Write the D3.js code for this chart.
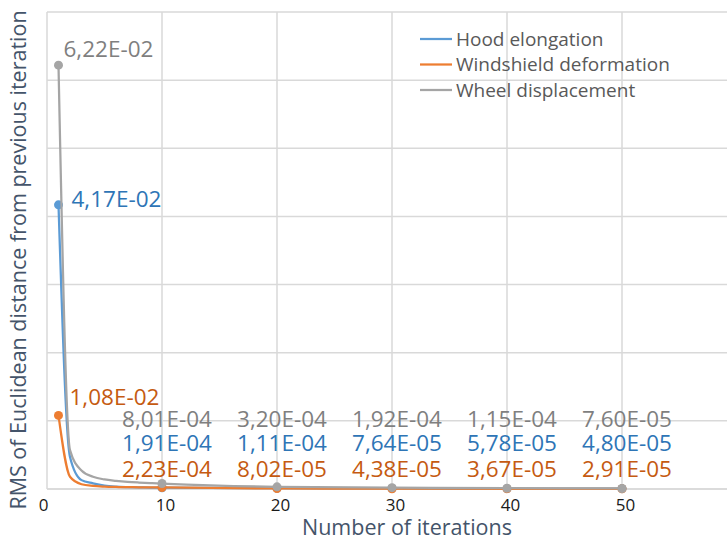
<!DOCTYPE html>
<html>
<head>
<meta charset="utf-8">
<script src="https://cdn.jsdelivr.net/npm/d3@7"></script>
<style>
  html, body { margin: 0; padding: 0; background: #fff; }
  svg { display: block; font-family: "Open Sans", sans-serif; }
</style>
</head>
<body>
<svg id="chart" width="727" height="541"></svg>
<script>
// ---- data ----
const iterations = [1, 2, 3, 4, 5, 6, 7, 8, 9, 10, 20, 30, 40, 50];
const hoodElongation = [4.17e-2, 4.7e-3, 1.3e-3, 8.3e-4, 5.0e-4, 3.5e-4, 2.8e-4, 2.4e-4, 2.1e-4, 1.91e-4, 1.11e-4, 7.64e-5, 5.78e-5, 4.80e-5];
const windshieldDeformation = [1.08e-2, 1.8e-3, 7.0e-4, 4.5e-4, 3.5e-4, 3.0e-4, 2.7e-4, 2.5e-4, 2.35e-4, 2.23e-4, 8.02e-5, 4.38e-5, 3.67e-5, 2.91e-5];
const wheelDisplacement = [6.22e-2, 5.7e-3, 2.7e-3, 1.8e-3, 1.4e-3, 1.2e-3, 1.05e-3, 9.5e-4, 8.7e-4, 8.01e-4, 3.20e-4, 1.92e-4, 1.15e-4, 7.60e-5];
const markedIterations = [1, 10, 20, 30, 40, 50];
const seriesNames = ["Hood elongation", "Windshield deformation", "Wheel displacement"];
const xTicks = [0, 10, 20, 30, 40, 50];
const yTicks = [0, 0.01, 0.02, 0.03, 0.04, 0.05, 0.06, 0.07];
const xTitle = "Number of iterations";
const yTitle = "RMS of Euclidean distance from previous iteration";

// ---- styles ----
const styles = [
  { line: "#5B9BD5", label: "#2E75B6", rowOffset: 38, first: { dx: 13, dy: 2 } },
  { line: "#ED7D31", label: "#C55A11", rowOffset: 12, first: { dx: 11, dy: -10 } },
  { line: "#A5A5A5", label: "#7F7F7F", rowOffset: 62, first: { dx: 5, dy: -8 } }
];
const seriesValues = [hoodElongation, windshieldDeformation, wheelDisplacement];

const svg = d3.select("#chart");
const x = d3.scaleLinear().domain([0, 60]).range([47, 737]);
const y = d3.scaleLinear().domain([0, 0.07]).range([489, 12]);

// gridlines
const grid = svg.append("g");
grid.selectAll("line.h").data(yTicks).join("line")
  .attr("x1", x(0)).attr("x2", 727)
  .attr("y1", d => y(d)).attr("y2", d => y(d))
  .attr("stroke", "#D9D9D9").attr("stroke-width", 1.5);
grid.selectAll("line.v").data(xTicks).join("line")
  .attr("x1", d => x(d)).attr("x2", d => x(d))
  .attr("y1", y(0.07)).attr("y2", y(0))
  .attr("stroke", "#D9D9D9").attr("stroke-width", 1.5);

// x axis
const xAxis = d3.axisBottom(x).tickValues(xTicks).tickSize(0).tickPadding(10).tickFormat(d3.format("d"));
const xg = svg.append("g").attr("transform", `translate(0,${y(0)})`).call(xAxis);
xg.select(".domain").attr("stroke", "#D9D9D9").attr("stroke-width", 1.5).attr("d", `M${x(0)},0H727`);
xg.selectAll("text").attr("fill", "#1a1a1a").attr("dx", d => d === 0 ? -4 : 3)
  .style("font-size", "17px").style("font-family", "'Open Sans', sans-serif");

// titles
svg.append("text").attr("x", 407).attr("y", 535).attr("text-anchor", "middle")
  .attr("fill", "#44546A").style("font-size", "21.5px").text(xTitle);
svg.append("text").attr("transform", "translate(26,260) rotate(-90)").attr("text-anchor", "middle")
  .attr("fill", "#44546A").style("font-size", "21.5px").text(yTitle);

// series
const line = d3.line().x(d => x(d[0])).y(d => y(d[1])).curve(d3.curveMonotoneX);
function fmt(v) {
  const [m, e] = v.toExponential(2).split("e");
  const ex = parseInt(e, 10);
  const sign = ex < 0 ? "-" : "+";
  return m.replace(".", ",") + "E" + sign + String(Math.abs(ex)).padStart(2, "0");
}

seriesValues.forEach((vals, i) => {
  const pts = iterations.map((it, k) => [it, vals[k]]);
  const g = svg.append("g");
  g.append("path").attr("d", line(pts)).attr("fill", "none")
    .attr("stroke", styles[i].line).attr("stroke-width", 2.25).attr("stroke-linejoin", "round");
  const marked = pts.filter(p => markedIterations.includes(p[0]));
  g.selectAll("circle").data(marked).join("circle")
    .attr("cx", d => x(d[0])).attr("cy", d => y(d[1])).attr("r", 4.5)
    .attr("fill", styles[i].line);
});

// data labels (drawn above all lines)
seriesValues.forEach((vals, i) => {
  const pts = iterations.map((it, k) => [it, vals[k]]).filter(p => markedIterations.includes(p[0]));
  const g = svg.append("g");
  g.selectAll("text").data(pts).join("text")
    .attr("x", (d, k) => k === 0 ? x(d[0]) + styles[i].first.dx : x(d[0]) + 5)
    .attr("y", (d, k) => k === 0 ? y(d[1]) + styles[i].first.dy : y(0) - styles[i].rowOffset)
    .attr("text-anchor", (d, k) => k === 0 ? "start" : "middle")
    .attr("fill", styles[i].label)
    .style("font-size", "22.5px")
    .text(d => fmt(d[1]));
});

// legend
const lg = svg.append("g");
seriesNames.forEach((name, i) => {
  const ly = 39 + i * 25.5;
  lg.append("line").attr("x1", 420).attr("x2", 452).attr("y1", ly).attr("y2", ly)
    .attr("stroke", styles[i].line).attr("stroke-width", 2.25);
  lg.append("text").attr("x", 456).attr("y", ly + 6.5).attr("fill", "#595959")
    .style("font-size", "19px").text(name);
});
</script>
</body>
</html>
